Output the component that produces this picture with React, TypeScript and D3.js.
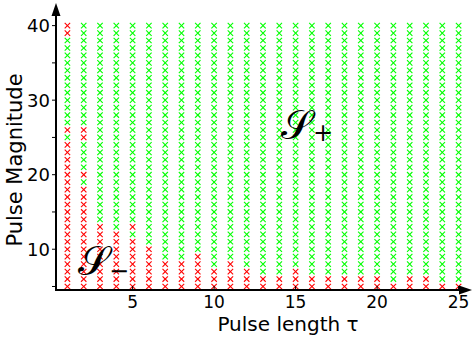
import React from "react";
import * as d3 from "d3";

// Grid of tested pulse lengths (tau) and pulse magnitudes
const taus = [1, 2, 3, 4, 5, 6, 7, 8, 9, 10, 11, 12, 13, 14, 15, 16, 17, 18, 19, 20, 21, 22, 23, 24, 25];
const magnitudes = [5, 6, 7, 8, 9, 10, 11, 12, 13, 14, 15, 16, 17, 18, 19, 20, 21, 22, 23, 24, 25, 26, 27, 28, 29, 30, 31, 32, 33, 34, 35, 36, 37, 38, 39, 40];
// Highest magnitude still in S_- (red) for each tau
const redUpTo = [24, 18, 13, 12, 11, 10, 8, 8, 9, 7, 8, 7, 6, 6, 7, 6, 6, 6, 6, 6, 5, 6, 6, 5, 5];
// Isolated red points above the boundary [tau, magnitude]
const extraRed: [number, number][] = [[1, 40], [1, 39], [1, 26], [2, 26], [2, 25], [2, 20], [5, 13]];

const xTicks = [5, 10, 15, 20, 25];
const yTicks = [5, 10, 15, 20, 25, 30, 35, 40];
const yTickLabels = [10, 20, 30, 40];

const W = 472;
const H = 341;

export default function App() {
  const x = d3.scaleLinear().domain([0.3, 25.7]).range([56, 470]);
  const y = d3.scaleLinear().domain([4.53, 42.9]).range([290, 4]);
  const x0 = x(0.3);
  const y0 = y(4.53);
  const font = "DejaVu Sans, sans-serif";
  const s = 2.7;

  const pts: { t: number; m: number; red: boolean }[] = [];
  taus.forEach((t, i) => {
    magnitudes.forEach((m) => {
      const red = m <= redUpTo[i] || extraRed.some(([a, b]) => a === t && b === m);
      pts.push({ t, m, red });
    });
  });

  return (
    <svg width={W} height={H} style={{ position: "absolute", left: 0, top: 0, background: "#fff" }}>
      {pts.map((p, i) => {
        const cx = x(p.t);
        const cy = y(p.m);
        const c = p.red ? "#ff0000" : "#00ff00";
        return (
          <g key={i} stroke={c} strokeWidth={1.1}>
            <line x1={cx - s} y1={cy - s} x2={cx + s} y2={cy + s} />
            <line x1={cx - s} y1={cy + s} x2={cx + s} y2={cy - s} />
          </g>
        );
      })}
      {/* axes */}
      <line x1={x0} y1={y0} x2={x0} y2={14} stroke="#000" strokeWidth={2} />
      <polygon points={`${x0},3 ${x0 - 4.5},16 ${x0 + 4.5},16`} fill="#000" />
      <line x1={x0 - 1} y1={y0} x2={460} y2={y0} stroke="#000" strokeWidth={2} />
      <polygon points={`472,${y0} 459,${y0 - 4.5} 459,${y0 + 4.5}`} fill="#000" />
      {yTicks.map((v) => (
        <line key={v} x1={x0 - 4} x2={x0} y1={y(v)} y2={y(v)} stroke="#000" strokeWidth={1} />
      ))}
      {xTicks.map((v) => (
        <line key={v} x1={x(v)} x2={x(v)} y1={y0} y2={y0 - 4} stroke="#000" strokeWidth={1} />
      ))}
      {yTickLabels.map((v) => (
        <text key={v} x={50} y={y(v) + 6.5} textAnchor="end" fontFamily={font} fontSize={18} fill="#000">
          {v}
        </text>
      ))}
      {xTicks.map((v) => (
        <text key={v} x={x(v)} y={308} textAnchor="middle" fontFamily={font} fontSize={17} fill="#000">
          {v}
        </text>
      ))}
      <text x={288} y={331} textAnchor="middle" fontFamily={font} fontSize={20} fill="#000">
        Pulse length τ
      </text>
      <text transform="translate(22,160) rotate(-90)" textAnchor="middle" fontFamily={font} fontSize={21} fill="#000">
        Pulse Magnitude
      </text>
      <text x={281} y={139} fontFamily="DejaVu Serif, serif" fontSize={40} fill="#000">
        𝒮
      </text>
      <text x={313} y={141} fontFamily={font} fontSize={24} fill="#000">
        +
      </text>
      <text x={78} y={275} fontFamily="DejaVu Serif, serif" fontSize={40} fill="#000">
        𝒮
      </text>
      <text x={109} y={279} fontFamily={font} fontSize={24} fill="#000">
        −
      </text>
    </svg>
  );
}
